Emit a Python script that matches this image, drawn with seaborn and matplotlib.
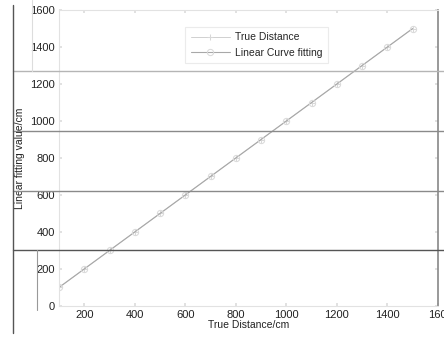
import matplotlib
matplotlib.use("Agg")
import matplotlib.pyplot as plt
import seaborn as sns
import pandas as pd
from matplotlib.lines import Line2D

sns.set_theme(style="white")
plt.rcParams['font.family'] = ['Liberation Sans', 'DejaVu Sans']

true_distance = [100, 200, 300, 400, 500, 600, 700, 800, 900, 1000, 1100, 1200, 1300, 1400, 1500]
fit_values = [100, 200, 300, 400, 500, 600, 700, 800, 900, 1000, 1100, 1200, 1300, 1400, 1500]
x_ticks = [200, 400, 600, 800, 1000, 1200, 1400, 1600]
y_ticks = [0, 200, 400, 600, 800, 1000, 1200, 1400, 1600]

df = pd.DataFrame({"x": true_distance, "true": true_distance, "fit": fit_values})

fig = plt.figure(figsize=(4.44, 3.38), dpi=100)
ax = fig.add_axes([0.133, 0.095, 0.853, 0.875])

sns.lineplot(data=df, x="x", y="true", ax=ax, color="#d0d0d0", lw=0.7, marker="+",
             markersize=5, markeredgecolor="#d8d8d8", label="True Distance")
sns.lineplot(data=df, x="x", y="fit", ax=ax, color="#a8a8a8", lw=0.8, marker="o",
             markersize=4.5, markerfacecolor="none", markeredgecolor="#dadada",
             label="Linear Curve fitting")

ax.set_xlim(100, 1600)
ax.set_ylim(0, 1600)
ax.set_xticks(x_ticks)
ax.set_xticklabels([str(v) for v in x_ticks[:-1]] + ["160"])
ax.set_yticks(y_ticks)
ax.tick_params(axis="both", labelsize=8, colors="#222222", length=2, direction="in",
               top=True, right=True, bottom=True, left=True, pad=3)
for lbl in ax.get_xticklabels() + ax.get_yticklabels():
    lbl.set_color("#222222")
for side in ["top", "left", "bottom"]:
    ax.spines[side].set_color("#e2e2e2")
    ax.spines[side].set_linewidth(0.8)
ax.spines["right"].set_color("#888888")
ax.spines["right"].set_linewidth(1.2)
ax.tick_params(axis="both", which="both", color="#dddddd")

ax.set_xlabel("True Distance/cm", fontsize=7.5, labelpad=0, color="#222222")
ax.set_ylabel("Linear fitting value/cm", fontsize=7.5, labelpad=2, color="#222222")
ax.yaxis.set_label_coords(-0.09, 0.5)

leg = ax.legend(loc="upper left", bbox_to_anchor=(0.32, 0.96), fontsize=7.5, frameon=True,
                fancybox=False, handlelength=3.8, borderpad=0.5, labelspacing=0.5,
                handletextpad=0.5)
leg.get_frame().set_edgecolor("#e6e6e6")
leg.get_frame().set_linewidth(0.8)

# scan artifacts (lines across the page)
W, H = 444.0, 338.0
def hline(y, x0, x1, c, lw):
    fig.add_artist(Line2D([x0 / W, x1 / W], [1 - y / H, 1 - y / H], color=c, lw=lw,
                          transform=fig.transFigure))
def vline(x, y0, y1, c, lw):
    fig.add_artist(Line2D([x / W, x / W], [1 - y0 / H, 1 - y1 / H], color=c, lw=lw,
                          transform=fig.transFigure))

hline(71, 13, 444, "#b5b5b5", 1.0)
hline(131, 13, 444, "#8a8a8a", 1.0)
hline(191, 13, 444, "#8a8a8a", 1.0)
hline(250, 13, 444, "#555555", 1.0)
vline(13, 5, 333, "#555555", 1.0)
vline(32, 0, 71, "#dddddd", 0.8)
vline(37, 250, 310, "#999999", 0.8)

fig.savefig("out.png", dpi=100)
